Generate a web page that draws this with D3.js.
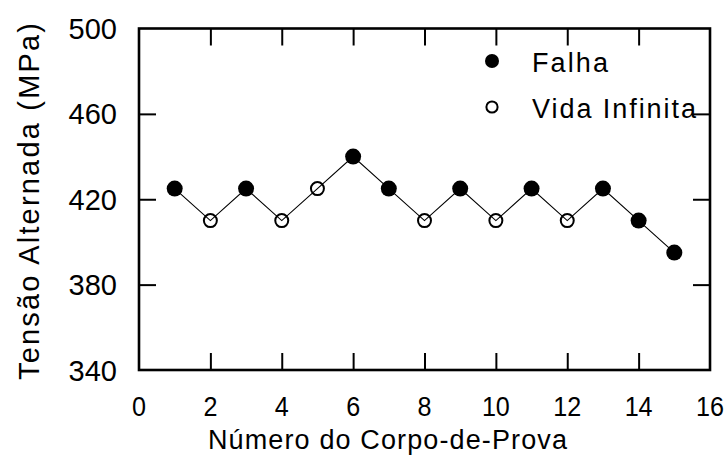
<!DOCTYPE html>
<html>
<head>
<meta charset="utf-8">
<script src="https://cdn.jsdelivr.net/npm/d3@7"></script>
<style>
  html, body { margin: 0; padding: 0; background: #fff; }
  svg { display: block; }
  text { font-family: "Liberation Sans", Arial, Helvetica, sans-serif; fill: #000; }
</style>
</head>
<body>
<svg id="chart" width="727" height="455"></svg>
<script>
// Specimen number and alternating stress (MPa), staircase test
const specimens = [1, 2, 3, 4, 5, 6, 7, 8, 9, 10, 11, 12, 13, 14, 15];
const stress    = [425, 410, 425, 410, 425, 440, 425, 410, 425, 410, 425, 410, 425, 410, 395];
// Outcome per specimen: "F" = failure (Falha), "R" = runout (Vida Infinita)
const outcome   = ["F", "R", "F", "R", "R", "F", "F", "R", "F", "R", "F", "R", "F", "F", "F"];

const xTicks = [0, 2, 4, 6, 8, 10, 12, 14, 16];
const yTicks = [340, 380, 420, 460, 500];
const legendLabels = ["Falha", "Vida Infinita"];

const svg = d3.select("#chart");
const plotLeft = 139, plotRight = 710, plotTop = 28.5, plotBottom = 370;

const x = d3.scaleLinear().domain([0, 16]).range([plotLeft, plotRight]);
const y = d3.scaleLinear().domain([340, 500]).range([plotBottom, plotTop]);

const tickLen = 17;
const innerX = xTicks.filter(d => d > 0 && d < 16);
const innerY = yTicks.filter(d => d > 340 && d < 500);

// inward ticks on all four sides
const bAxis = svg.append("g").attr("transform", `translate(0,${plotBottom})`)
  .call(d3.axisBottom(x).tickValues(innerX).tickSizeInner(-tickLen).tickSizeOuter(0).tickFormat(""));
const tAxis = svg.append("g").attr("transform", `translate(0,${plotTop})`)
  .call(d3.axisTop(x).tickValues(innerX).tickSizeInner(-tickLen).tickSizeOuter(0).tickFormat(""));
const lAxis = svg.append("g").attr("transform", `translate(${plotLeft},0)`)
  .call(d3.axisLeft(y).tickValues(innerY).tickSizeInner(-tickLen).tickSizeOuter(0).tickFormat(""));
const rAxis = svg.append("g").attr("transform", `translate(${plotRight},0)`)
  .call(d3.axisRight(y).tickValues(innerY).tickSizeInner(-tickLen).tickSizeOuter(0).tickFormat(""));
[bAxis, tAxis, lAxis, rAxis].forEach(g => {
  g.select(".domain").remove();
  g.selectAll(".tick line").attr("stroke", "#000").attr("stroke-width", 2);
});

// frame
svg.append("rect")
  .attr("x", plotLeft).attr("y", plotTop)
  .attr("width", plotRight - plotLeft).attr("height", plotBottom - plotTop)
  .attr("fill", "none").attr("stroke", "#000").attr("stroke-width", 2.6);

// tick labels (slightly condensed glyphs on the x axis)
svg.append("g").selectAll("text").data(xTicks).join("text")
  .attr("x", d => x(d)).attr("y", 416)
  .attr("text-anchor", "middle").attr("font-size", 27)
  .attr("textLength", d => String(d).length * 14).attr("lengthAdjust", "spacingAndGlyphs")
  .text(d => d);
svg.append("g").selectAll("text").data(yTicks).join("text")
  .attr("x", 117).attr("y", d => y(d) + 10.5)
  .attr("text-anchor", "end").attr("font-size", 29)
  .text(d => d);

// axis titles
svg.append("text")
  .attr("x", 208).attr("y", 449)
  .attr("font-size", 27)
  .attr("textLength", 359).attr("lengthAdjust", "spacing")
  .text("Número do Corpo-de-Prova");
svg.append("text")
  .attr("transform", "translate(39,380) rotate(-90)")
  .attr("font-size", 29)
  .attr("textLength", 357).attr("lengthAdjust", "spacing")
  .text("Tensão Alternada (MPa)");

// connecting line
const pts = specimens.map((s, i) => ({ s, v: stress[i], o: outcome[i] }));
svg.append("path")
  .datum(pts)
  .attr("fill", "none").attr("stroke", "#000").attr("stroke-width", 1.1)
  .attr("d", d3.line().x(d => x(d.s)).y(d => y(d.v)));

// markers
svg.append("g").selectAll("circle").data(pts).join("circle")
  .attr("cx", d => x(d.s)).attr("cy", d => y(d.v))
  .attr("r", d => d.o === "F" ? 8 : 6.5)
  .attr("fill", d => d.o === "F" ? "#000" : "none")
  .attr("stroke", "#000")
  .attr("stroke-width", d => d.o === "F" ? 0 : 2);

// legend
const legend = svg.append("g");
const legY = [61, 107];
legend.selectAll("circle").data(legendLabels).join("circle")
  .attr("cx", 492).attr("cy", (d, i) => legY[i])
  .attr("r", (d, i) => i === 0 ? 7 : 5.6)
  .attr("fill", (d, i) => i === 0 ? "#000" : "none")
  .attr("stroke", "#000")
  .attr("stroke-width", (d, i) => i === 0 ? 0 : 2);
const legLen = [76, 164];
legend.selectAll("text").data(legendLabels).join("text")
  .attr("x", 532).attr("y", (d, i) => legY[i] + 11)
  .attr("font-size", 27)
  .attr("textLength", (d, i) => legLen[i]).attr("lengthAdjust", "spacing")
  .text(d => d);
</script>
</body>
</html>
